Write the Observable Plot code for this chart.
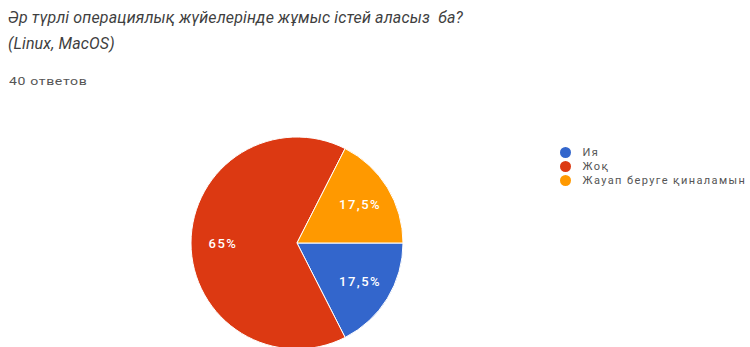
<!DOCTYPE html>
<html>
<head>
<meta charset="utf-8">
<script src="https://cdn.jsdelivr.net/npm/d3@7"></script>
<script src="https://cdn.jsdelivr.net/npm/@observablehq/plot@0.6"></script>
<style>
  html, body { margin: 0; padding: 0; background: #fff; width: 750px; height: 347px; overflow: hidden; }
  #head { position: relative; height: 100px; font-family: Roboto, "Liberation Sans", sans-serif; }
  #title { position: absolute; left: 8px; top: 5px; font-size: 16px; font-style: italic; color: #3f3f3f; line-height: 26px; white-space: nowrap; letter-spacing: 0.15px; }
  #sub { position: absolute; left: 9px; top: 75px; font-size: 11px; color: #555; letter-spacing: 0.5px; transform: scaleX(1.28); transform-origin: left top; white-space: nowrap; }
  #chart svg { display: block; overflow: hidden; }
</style>
</head>
<body>
<div id="head">
  <div id="title">Әр түрлі операциялық жүйелерінде жұмыс істей аласыз &nbsp;ба?<br>(Linux, MacOS)</div>
  <div id="sub">40 ответов</div>
</div>
<div id="chart"></div>
<script>
const categories = ["Ия", "Жоқ", "Жауап беруге қиналамын"];
const counts = [7, 26, 7];
const percentLabels = ["17,5%", "65%", "17,5%"];
const colors = ["#3366cc", "#dc3912", "#ff9900"];

const data = categories.map((c, i) => ({category: c, count: counts[i], label: percentLabels[i]}));

const W = 750, H = 247;
const pieCx = 297, pieCy = 143, pieR = 106, labelR = 74;

function pieMark(index, scales) {
  const g = d3.create("svg:g").attr("transform", `translate(${pieCx},${pieCy})`);
  const arcs = d3.pie().value(d => d.count).sort(null)
    .startAngle(Math.PI / 2).endAngle(Math.PI / 2 + 2 * Math.PI)(data);
  const arc = d3.arc().innerRadius(0).outerRadius(pieR);
  const lab = d3.arc().innerRadius(labelR).outerRadius(labelR);
  g.selectAll("path").data(arcs).join("path")
    .attr("d", arc)
    .attr("fill", d => scales.color(d.data.category))
    .attr("stroke", "#fff")
    .attr("stroke-width", 1);
  g.selectAll("text").data(arcs).join("text")
    .attr("transform", d => `translate(${lab.centroid(d)})`)
    .attr("text-anchor", "middle")
    .attr("dy", "0.35em")
    .attr("fill", "#fff")
    .attr("font-size", 13)
    .attr("font-weight", 500)
    .attr("letter-spacing", "1.5px")
    .attr("font-family", "Roboto, 'Liberation Sans', sans-serif")
    .text(d => d.data.label);
  return g.node();
}

const chart = Plot.plot({
  width: W,
  height: H,
  marginLeft: 565,
  marginRight: 0,
  marginTop: 0,
  marginBottom: 0,
  style: {background: "#fff", fontFamily: "Roboto, 'Liberation Sans', sans-serif"},
  x: {axis: null},
  y: {type: "point", domain: categories, range: [44, 87], axis: null},
  color: {type: "ordinal", domain: categories, range: colors},
  marks: [
    pieMark,
    Plot.dot(data, {y: "category", fill: "category", r: 5.5, frameAnchor: "left"}),
    Plot.text(data, {y: "category", text: "category", frameAnchor: "left", textAnchor: "start", dx: 17, fill: "#555", fontSize: 11})
  ]
});
d3.select(chart).selectAll("g[aria-label=text] text").attr("letter-spacing", "1.4px");
document.getElementById("chart").appendChild(chart);
</script>
</body>
</html>
